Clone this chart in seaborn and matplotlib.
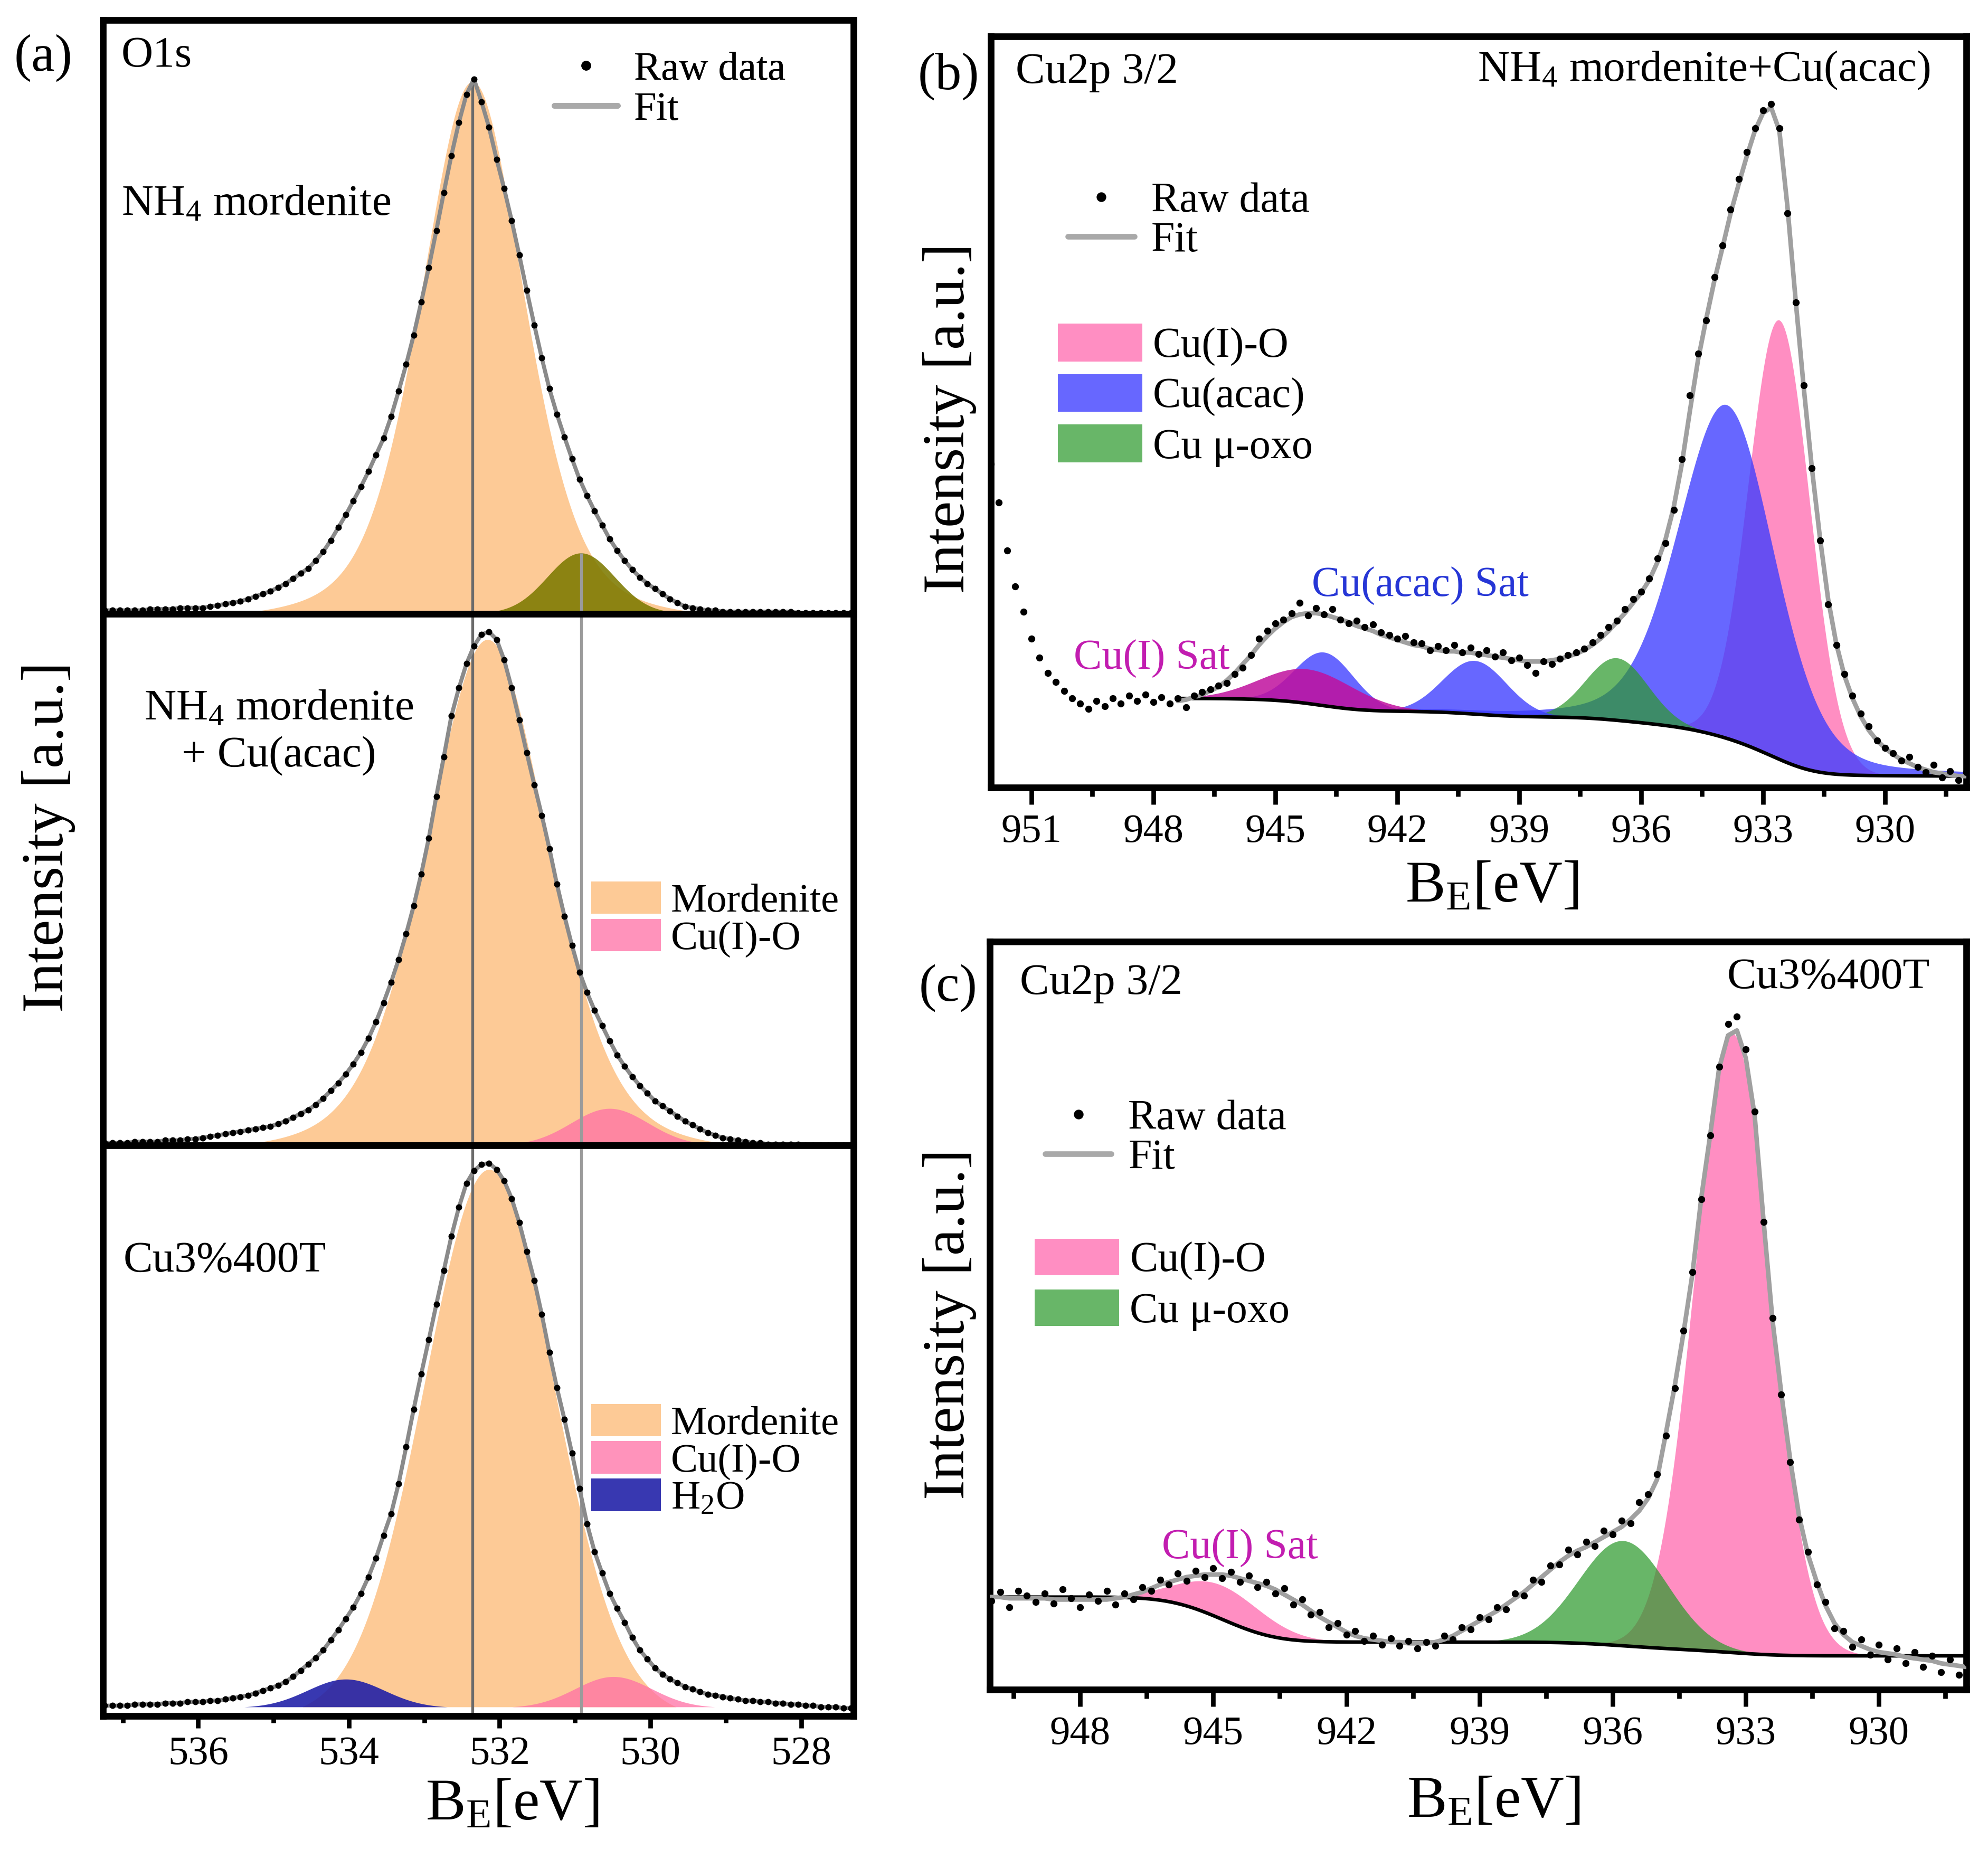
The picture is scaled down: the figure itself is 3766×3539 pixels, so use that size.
import numpy as np
import pandas as pd
import matplotlib
matplotlib.use('Agg')
import matplotlib.pyplot as plt
from matplotlib.patches import Patch
from matplotlib.lines import Line2D
from matplotlib.ticker import MultipleLocator
import seaborn as sns

sns.set_theme(style='white')
plt.rcParams['font.family'] = ['Liberation Serif', 'DejaVu Serif']
plt.rcParams['mathtext.fontset'] = 'custom'
plt.rcParams['mathtext.rm'] = 'Liberation Serif'
plt.rcParams['mathtext.it'] = 'Liberation Serif:italic'
plt.rcParams['mathtext.bf'] = 'Liberation Serif:bold'
plt.rcParams['text.color'] = 'black'
plt.rcParams['axes.labelcolor'] = 'black'
plt.rcParams['xtick.color'] = 'black'

# ---------------- data ----------------
# (a) O1s spectra, binding energy [eV] from high to low, raw intensities (a.u.)
be_o1s = np.round(np.arange(537.24, 527.3, -0.1), 2)
o1s_nh4 = [3, 3, 3, 3, 3, 3, 4, 4, 4, 4,
           5, 5, 5, 5, 6, 7, 8, 9, 10, 12,
           14, 16, 18, 21, 24, 28, 32, 36, 42, 49,
           58, 68, 78, 89, 100, 112, 125, 138, 155, 175,
           196, 219, 245, 272, 301, 331, 360, 386, 408, 420,
           402, 382, 357, 334, 309, 282, 254, 227, 201, 177,
           157, 139, 122, 106, 93, 81, 70, 59, 50, 42,
           35, 29, 24, 20, 16, 12, 9, 6, 5, 4,
           3, 3, 2, 2, 2, 2, 2, 2, 2, 2,
           2, 2, 1, 1, 1, 1, 1, 1, 1, 1]
o1s_acac = [5, 5, 5, 5, 6, 6, 6, 6, 7, 7,
            7, 8, 8, 9, 10, 11, 12, 13, 14, 15,
            16, 17, 18, 20, 22, 25, 28, 31, 35, 40,
            46, 52, 59, 67, 76, 87, 100, 115, 131, 149,
            169, 191, 216, 244, 277, 308, 340, 362, 381, 395,
            404, 406, 400, 384, 362, 337, 311, 286, 262, 236,
            208, 183, 160, 139, 123, 109, 97, 85, 74, 65,
            57, 50, 44, 38, 34, 30, 26, 22, 19, 16,
            13, 11, 9, 8, 7, 6, 5, 5, 4, 4,
            4, 4, 4, 3, 3, 3, 3, 3, 3, 3]
o1s_cu3 = [8, 8, 8, 8, 9, 9, 9, 9, 10, 10,
           10, 11, 11, 11, 12, 12, 13, 14, 15, 16,
           18, 20, 22, 24, 27, 31, 36, 41, 46, 52,
           60, 68, 77, 86, 97, 110, 125, 143, 160, 184,
           213, 243, 271, 298, 326, 353, 380, 403, 422, 432,
           437, 438, 433, 424, 410, 391, 368, 345, 318, 288,
           260, 235, 208, 180, 152, 130, 113, 97, 85, 74,
           62, 52, 45, 38, 33, 29, 26, 23, 21, 19,
           17, 16, 15, 14, 13, 12, 12, 11, 11, 10,
           10, 9, 9, 8, 8, 7, 7, 7, 6, 6]

# O1s fitted components: name, center, height, fwhm, lorentz fraction
o1s_nh4_base = 2
o1s_nh4_names = ['Mordenite', 'OH']
o1s_nh4_center = [532.36, 530.92]
o1s_nh4_height = [416, 46]
o1s_nh4_fwhm = [1.65, 1.05]
o1s_nh4_mix = [0.4, 0.0]

o1s_acac_base = 4
o1s_acac_names = ['Mordenite', 'Cu(I)-O']
o1s_acac_center = [532.16, 530.54]
o1s_acac_height = [396, 28]
o1s_acac_fwhm = [1.95, 1.2]
o1s_acac_mix = [0.35, 0.0]

o1s_cu3_base = 7
o1s_cu3_names = ['Mordenite', 'Cu(I)-O', 'H$_\\mathrm{2}$O']
o1s_cu3_center = [532.14, 530.49, 534.04]
o1s_cu3_height = [426, 24, 22]
o1s_cu3_fwhm = [2.05, 1.2, 1.2]
o1s_cu3_mix = [0.1, 0.0, 0.0]

# (b) Cu2p 3/2, NH4 mordenite + Cu(acac)
be_b = np.round(np.arange(952.0, 927.9, -0.2), 1)
raw_b = [258, 228, 190, 162, 142, 121, 106, 94, 87, 80,
         74, 70, 66, 72, 68, 74, 70, 76, 72, 77,
         71, 75, 70, 74, 67, 76, 79, 81, 84, 86,
         93, 98, 108, 121, 127, 133, 136, 141, 149, 139,
         145, 140, 144, 136, 133, 135, 130, 132, 126, 124,
         121, 123, 118, 117, 112, 115, 112, 116, 110, 114,
         109, 112, 107, 110, 104, 106, 100, 94, 103, 101,
         105, 108, 110, 113, 118, 124, 130, 135, 144, 152,
         158, 168, 184, 196, 222, 262, 312, 345, 371, 405,
         430, 458, 482, 503, 522, 536, 541, 522, 455, 385,
         320, 255, 198, 148, 116, 93, 76, 62, 52, 41,
         35, 31, 25, 28, 20, 16, 22, 12, 17, 10,
         16]
be_fit_b = np.round(np.arange(947.4, 927.9, -0.2), 1)
fit_b = [72, 73, 75, 77, 80, 83, 88, 94, 101, 108,
         116, 123, 129, 134, 138, 140, 141, 141, 140, 138,
         136, 134, 131, 129, 127, 124, 122, 120, 118, 116,
         115, 113, 112, 111, 111, 110, 110, 109, 108, 107,
         106, 105, 104, 103, 103, 103, 104, 105, 107, 109,
         112, 116, 121, 127, 134, 141, 149, 157, 167, 181,
         199, 224, 258, 300, 340, 372, 402, 428, 455, 478,
         500, 520, 534, 538, 520, 460, 387, 318, 255, 200,
         152, 117, 92, 74, 60, 49, 41, 35, 30, 26,
         23, 20, 18, 16, 15, 14, 13, 13]
cu_b_names = ['Cu(I)-O', 'Cu(acac)', 'Cu μ-oxo', 'Cu(acac) Sat', 'Cu(acac) Sat', 'Cu(I) Sat']
cu_b_center = [932.6, 933.9, 936.6, 940.1, 943.8, 944.2]
cu_b_height = [345, 262, 49, 42, 42, 27]
cu_b_fwhm = [1.77, 2.8, 1.8, 1.85, 1.7, 2.7]
cu_b_mix = [0.0, 0.25, 0.0, 0.0, 0.0, 0.0]
cu_b_step = [18, 25, 4, 4, 5, 5]
cu_b_low = 13

# (c) Cu2p 3/2, Cu3%400T
be_c = np.round(np.arange(950.2, 927.9, -0.2), 1)
raw_c = [80, 71, 78, 66, 79, 75, 70, 77, 69, 80,
         73, 66, 76, 71, 79, 68, 77, 72, 82, 79,
         88, 84, 93, 87, 95, 90, 97, 89, 94, 86,
         91, 82, 86, 77, 81, 68, 72, 60, 62, 50,
         53, 44, 47, 39, 43, 36, 41, 35, 39, 33,
         38, 35, 43, 40, 50, 48, 58, 56, 66, 64,
         77, 75, 88, 86, 99, 100, 112, 108, 118, 115,
         127, 124, 135, 133, 150, 156, 172, 203, 241, 287,
         334, 392, 443, 498, 532, 538, 512, 462, 374, 297,
         236, 182, 136, 110, 84, 70, 49, 47, 34, 40,
         28, 36, 24, 33, 21, 30, 18, 27, 14, 24,
         12, 21]
fit_c = [74, 74, 74, 73, 73, 73, 73, 73, 72, 72,
         72, 72, 72, 72, 72, 73, 74, 76, 78, 81,
         84, 86, 88, 90, 91, 92, 92, 92, 91, 89,
         87, 85, 83, 80, 76, 72, 68, 63, 58, 54,
         50, 46, 43, 41, 40, 39, 38, 38, 37, 37,
         37, 38, 40, 43, 47, 51, 55, 59, 63, 68,
         73, 78, 84, 90, 96, 102, 107, 111, 114, 118,
         122, 126, 130, 136, 143, 153, 168, 205, 243, 286,
         333, 394, 444, 497, 523, 527, 505, 459, 375, 296,
         237, 184, 139, 108, 86, 67, 53, 44, 38, 35,
         32, 30, 29, 28, 26, 25, 24, 23, 21, 20,
         19, 18]
cu_c_names = ['Cu(I)-O', 'Cu μ-oxo', 'Cu(I) Sat']
cu_c_center = [933.3, 935.76, 944.8]
cu_c_height = [495, 84, 27]
cu_c_fwhm = [2.0, 2.35, 2.25]
cu_c_mix = [0.0, 0.0, 0.0]
cu_c_step = [5, 6, 36]
cu_c_low = 27

# colours (face colour, alpha)
o1s_colors = {'Mordenite': ('#fdca96', 1.0), 'OH': ('#7d7a00', 0.88),
              'Cu(I)-O': ('#ff6fa5', 0.75), 'H$_\\mathrm{2}$O': ('#1c1ca6', 0.88)}
cu_colors = {'Cu(I)-O': ('#ff7ab8', 0.85), 'Cu(acac)': ('#3c3cff', 0.78),
             'Cu μ-oxo': ('#2e9a2e', 0.72), 'Cu(acac) Sat': ('#3c3cff', 0.78),
             'Cu(I) Sat': ('#c0109e', 0.85)}
cu_c_colors = dict(cu_colors)
cu_c_colors['Cu(I) Sat'] = ('#ff7ab8', 0.85)


def peak(x, c, h, w, m=0.0):
    g = np.exp(-4 * np.log(2) * ((x - c) / w) ** 2)
    l = 1 / (1 + 4 * ((x - c) / w) ** 2)
    return h * ((1 - m) * g + m * l)


def step_background(x, low, centers, heights, fwhms, mixes, steps):
    # shirley-like: each component adds a step proportional to its integral
    bg = np.full(len(x), float(low))
    for c, h, w, m, s in zip(centers, heights, fwhms, mixes, steps):
        p = peak(x, c, h, w, m)
        cum = np.cumsum(p[::-1])[::-1]
        bg += s * cum / cum[0]
    return bg


def style_axis(ax, xticks=True, major=2, minor=1, tlen=9.5, tpad=5.5):
    for s in ax.spines.values():
        s.set_linewidth(3.8)
        s.set_color('black')
    ax.tick_params(axis='y', left=False, labelleft=False)
    if xticks:
        ax.xaxis.set_major_locator(MultipleLocator(major))
        ax.xaxis.set_minor_locator(MultipleLocator(minor))
        ax.tick_params(axis='x', which='major', bottom=True, direction='out', length=tlen,
                       width=2.6, labelsize=23, pad=tpad, color='black')
        ax.tick_params(axis='x', which='minor', bottom=True, direction='out', length=tlen * 0.55,
                       width=2.6, color='black')
    else:
        ax.tick_params(axis='x', bottom=False, labelbottom=False)
        ax.tick_params(axis='x', which='minor', bottom=False)
    ax.set_xlabel('')
    ax.set_ylabel('')


def raw_fit_legend(ax, anchor, fs, ls):
    handles = [Line2D([], [], marker='o', ls='none', color='black', markersize=4.5, label='Raw data'),
               Line2D([], [], color='#a9a9a9', lw=3.2, label='Fit')]
    leg = ax.legend(handles=handles, loc='upper left', bbox_to_anchor=anchor, frameon=False,
                    fontsize=fs, handlelength=1.57, handletextpad=0.4, labelspacing=ls,
                    borderpad=0, borderaxespad=0)
    ax.add_artist(leg)


def comp_legend(ax, names, colors, anchor, fs, hl, hh, ls):
    handles = [Patch(facecolor=colors[n][0], alpha=colors[n][1], edgecolor='none', label=n)
               for n in names]
    ax.legend(handles=handles, loc='upper left', bbox_to_anchor=anchor, frameon=False,
              fontsize=fs, handlelength=hl, handleheight=hh, handletextpad=0.25,
              labelspacing=ls, borderpad=0, borderaxespad=0)


fig = plt.figure(figsize=(3766 / 240, 3539 / 240), dpi=240)

# ---------------- (a) O1s ----------------
o1s_sets = [
    (o1s_nh4, o1s_nh4_base, o1s_nh4_names, o1s_nh4_center, o1s_nh4_height, o1s_nh4_fwhm, o1s_nh4_mix),
    (o1s_acac, o1s_acac_base, o1s_acac_names, o1s_acac_center, o1s_acac_height, o1s_acac_fwhm, o1s_acac_mix),
    (o1s_cu3, o1s_cu3_base, o1s_cu3_names, o1s_cu3_center, o1s_cu3_height, o1s_cu3_fwhm, o1s_cu3_mix),
]
a_pos = [[0.0519, 0.6712, 0.3776, 0.3182], [0.0519, 0.3868, 0.3776, 0.2845],
         [0.0519, 0.0815, 0.3776, 0.3053]]
a_ylim = [(0, 466.5), (3, 420), (0, 452)]
a_legend_top = [0.415, 0.497, 0.547]
xf_a = np.linspace(537.26, 527.3, 900)
line1 = o1s_nh4_center[0]
line2 = o1s_nh4_center[1]
axes_a = []
for i, (raw, base, names, cen, hgt, fw, mx) in enumerate(o1s_sets):
    ax = fig.add_axes(a_pos[i])
    axes_a.append(ax)
    for n, c, h, w, m in zip(names, cen, hgt, fw, mx):
        col, al = o1s_colors[n]
        # drawn component ends where its tail drops below a few percent of the height
        p = np.clip(peak(xf_a, c, h, w, m) - 0.03 * h, 0, None) / 0.97
        ax.fill_between(xf_a, base, base + p, where=p > 0, color=col, alpha=al,
                        lw=0, zorder=1)
    if i == 0:
        ax.vlines(line1, 0, base + hgt[0], color='#6b6b6b', lw=1.6, zorder=2.5)
        ax.vlines(line2, 0, base + hgt[1], color='#9b9b9b', lw=1.6, zorder=2.5)
    else:
        ax.axvline(line1, color='#6b6b6b', lw=1.6, zorder=2.5)
        ax.axvline(line2, color='#9b9b9b', lw=1.6, zorder=2.5)
    sns.lineplot(x=be_o1s, y=raw, ax=ax, color='#8a8a8a', lw=2.3, zorder=3)
    sns.scatterplot(x=be_o1s, y=raw, ax=ax, color='black', s=13, linewidth=0, zorder=4,
                    legend=False)
    ax.set_xlim(537.26, 527.3)
    ax.set_ylim(*a_ylim[i])
    style_axis(ax, xticks=(i == 2), tlen=7, tpad=4.5)
    comp_legend(ax, names, o1s_colors, (0.65, a_legend_top[i]), 23, 1.72, 0.85, -0.03)

ax = axes_a[0]
raw_fit_legend(ax, (0.601, 0.947), 23, 0.08)
ax.text(0.024, 0.939, 'O1s', transform=ax.transAxes, fontsize=25, va='center', ha='left')
ax.text(0.024, 0.69, 'NH$_\\mathrm{4}$ mordenite', transform=ax.transAxes, fontsize=25,
        va='center', ha='left')
axes_a[1].text(0.234, 0.777, 'NH$_\\mathrm{4}$ mordenite\n+ Cu(acac)', transform=axes_a[1].transAxes,
               fontsize=25, va='center', ha='center', linespacing=1.25)
axes_a[2].text(0.027, 0.797, 'Cu3%400T', transform=axes_a[2].transAxes, fontsize=25,
               va='center', ha='left')
axes_a[2].set_xlabel('B$_\\mathrm{E}$[eV]', fontsize=34)
axes_a[2].xaxis.set_label_coords(0.545, -0.11)

# ---------------- (b) Cu2p, NH4 mordenite + Cu(acac) ----------------
ax = fig.add_axes([0.4984, 0.5784, 0.4907, 0.4021])
xf_b = np.linspace(947.4, 928.0, 900)
bg_b = step_background(xf_b, cu_b_low, cu_b_center, cu_b_height, cu_b_fwhm, cu_b_mix, cu_b_step)
for n, c, h, w, m in zip(cu_b_names, cu_b_center, cu_b_height, cu_b_fwhm, cu_b_mix):
    col, al = cu_colors[n]
    ax.fill_between(xf_b, bg_b, bg_b + peak(xf_b, c, h, w, m), color=col, alpha=al, lw=0, zorder=1)
ax.plot(xf_b, bg_b, color='black', lw=2.0, zorder=2)
sns.lineplot(x=be_fit_b, y=fit_b, ax=ax, color='#a0a0a0', lw=2.6, zorder=3)
sns.scatterplot(x=be_b, y=raw_b, ax=ax, color='black', s=16, linewidth=0, zorder=4, legend=False)
ax.set_xlim(952.0, 928.0)
ax.set_ylim(4, 594)
style_axis(ax, major=3, minor=1.5)
raw_fit_legend(ax, (0.079, 0.806), 24, 0.03)
comp_legend(ax, ['Cu(I)-O', 'Cu(acac)', 'Cu μ-oxo'], cu_colors, (0.0686, 0.6175), 24, 2.0, 1.0, 0.19)
ax.text(0.0255, 0.952, 'Cu2p 3/2', transform=ax.transAxes, fontsize=25, va='center', ha='left')
ax.text(0.963, 0.955, 'NH$_\\mathrm{4}$ mordenite+Cu(acac)', transform=ax.transAxes, fontsize=25,
        va='center', ha='right')
ax.text(0.44, 0.268, 'Cu(acac) Sat', transform=ax.transAxes, fontsize=24, va='center',
        ha='center', color='#2636d6')
ax.text(0.165, 0.171, 'Cu(I) Sat', transform=ax.transAxes, fontsize=24, va='center',
        ha='center', color='#c21db0')
ax.set_xlabel('B$_\\mathrm{E}$[eV]', fontsize=34)
ax.xaxis.set_label_coords(0.514, -0.097)

# ---------------- (c) Cu2p, Cu3%400T ----------------
ax = fig.add_axes([0.4978, 0.0955, 0.4913, 0.4004])
xf_c = np.linspace(950.1, 927.95, 900)
bg_c = step_background(xf_c, cu_c_low, cu_c_center, cu_c_height, cu_c_fwhm, cu_c_mix, cu_c_step)
for n, c, h, w, m in zip(cu_c_names, cu_c_center, cu_c_height, cu_c_fwhm, cu_c_mix):
    col, al = cu_c_colors[n]
    ax.fill_between(xf_c, bg_c, bg_c + peak(xf_c, c, h, w, m), color=col, alpha=al, lw=0, zorder=1)
ax.plot(xf_c, bg_c, color='black', lw=2.0, zorder=2)
sns.lineplot(x=be_c, y=fit_c, ax=ax, color='#a0a0a0', lw=2.6, zorder=3)
sns.scatterplot(x=be_c, y=raw_c, ax=ax, color='black', s=16, linewidth=0, zorder=4, legend=False)
ax.set_xlim(950.04, 928.03)
ax.set_ylim(0, 598)
style_axis(ax, major=3, minor=1.5)
raw_fit_legend(ax, (0.0568, 0.789), 24, 0.03)
comp_legend(ax, ['Cu(I)-O', 'Cu μ-oxo'], cu_c_colors, (0.0463, 0.603), 24, 2.0, 0.95, 0.22)
ax.text(0.0307, 0.944, 'Cu2p 3/2', transform=ax.transAxes, fontsize=25, va='center', ha='left')
ax.text(0.963, 0.952, 'Cu3%400T', transform=ax.transAxes, fontsize=25, va='center', ha='right')
ax.text(0.256, 0.189, 'Cu(I) Sat', transform=ax.transAxes, fontsize=24, va='center',
        ha='center', color='#c21db0')
ax.set_xlabel('B$_\\mathrm{E}$[eV]', fontsize=34)
ax.xaxis.set_label_coords(0.516, -0.115)

# y labels and panel letters
fig.text(0.0244, 0.552, 'Intensity [a.u.]', rotation=90, fontsize=34, ha='center', va='center')
fig.text(0.4776, 0.776, 'Intensity [a.u.]', rotation=90, fontsize=34, ha='center', va='center')
fig.text(0.4776, 0.291, 'Intensity [a.u.]', rotation=90, fontsize=34, ha='center', va='center')
fig.text(0.0218, 0.969, '(a)', fontsize=30, ha='center', va='center')
fig.text(0.477, 0.959, '(b)', fontsize=30, ha='center', va='center')
fig.text(0.477, 0.471, '(c)', fontsize=30, ha='center', va='center')

fig.savefig('out.png', dpi=240, facecolor='white')
